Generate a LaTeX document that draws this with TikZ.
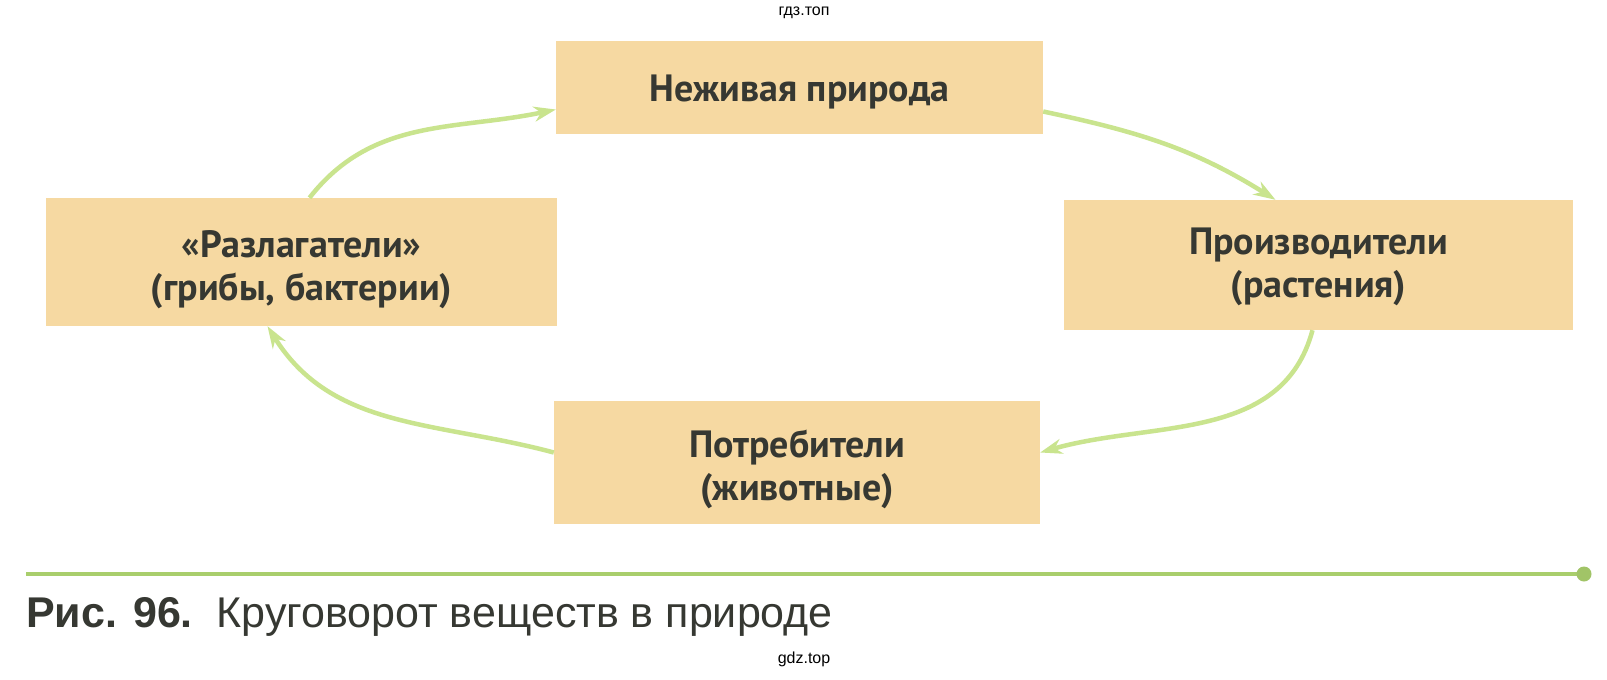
\documentclass[tikz,border=0pt]{standalone}
\usepackage{fontspec}
\setmainfont{Liberation Sans}
\newfontfamily\boxfont{PT Sans}
\usetikzlibrary{arrows.meta,calc}
\definecolor{boxtan}{HTML}{F6D9A2}
\definecolor{txtgray}{HTML}{363832}
\definecolor{arrgreen}{HTML}{C9E48E}
\definecolor{linegreen}{HTML}{A9CE6C}
\begin{document}
\begin{tikzpicture}[x=1pt,y=-1pt,
  card/.style={fill=boxtan, inner sep=0pt},
  cardtxt/.style={inner sep=0pt, align=center, text=txtgray,
    font=\boxfont\bfseries\fontsize{38}{43}\selectfont},
  flow/.style={draw=arrgreen, line width=4.5pt,
    -{Stealth[length=22pt,width=15pt,inset=7pt]}},
  wmark/.style={font=\fontsize{16}{18}\selectfont, text=black}]
\useasboundingbox[fill=white] (0,0) rectangle (1607,680);

\node[card, minimum width=487pt, minimum height=93pt] (T) at (799.5,87.5) {};
\node[card, minimum width=511pt, minimum height=128pt] (L) at (301.5,262) {};
\node[card, minimum width=509pt, minimum height=130pt] (R) at (1318.5,265) {};
\node[card, minimum width=486pt, minimum height=123pt] (B) at (797,462.5) {};

\node[cardtxt, yshift=-4pt] (Tt) at (T) {Неживая природа};
\node[cardtxt, yshift=-8pt] (Lt) at (L) {«Разлагатели»\\(грибы, бактерии)};
\node[cardtxt, yshift=-2pt] (Rt) at (R) {Производители\\(растения)};
\node[cardtxt, yshift=-7pt] (Bt) at (B) {Потребители\\(животные)};

\draw[flow] ([xshift=8pt]L.north) to[out=52,in=192] ([yshift=-22pt]T.west);
\draw[flow] ([yshift=-24pt]T.east) to[out=-12,in=148] ([xshift=-43pt]R.north);
\draw[flow] ([xshift=-6pt]R.south) to[out=-105,in=16] ([yshift=10pt]B.east);
\draw[flow] ([yshift=10pt]B.west) to[out=165,in=-58] ([xshift=-34pt]L.south);

\coordinate (ls) at (26,574);
\coordinate (le) at (1584,574);
\draw[linegreen, line width=4pt] (ls) -- (le);
\fill[linegreen!95!black] (le) circle (7.5pt);

\node[anchor=base west, inner sep=0pt, text=txtgray, font=\fontsize{43}{48}\selectfont] (cap) at (26,627)
  {\textbf{Рис. 96.}\hspace{0.55em}Круговорот веществ в природе};

\node[wmark] (w1) at (804,13) {гдз.топ};
\node[wmark] (w2) at (804,659) {gdz.top};
\end{tikzpicture}
\end{document}
